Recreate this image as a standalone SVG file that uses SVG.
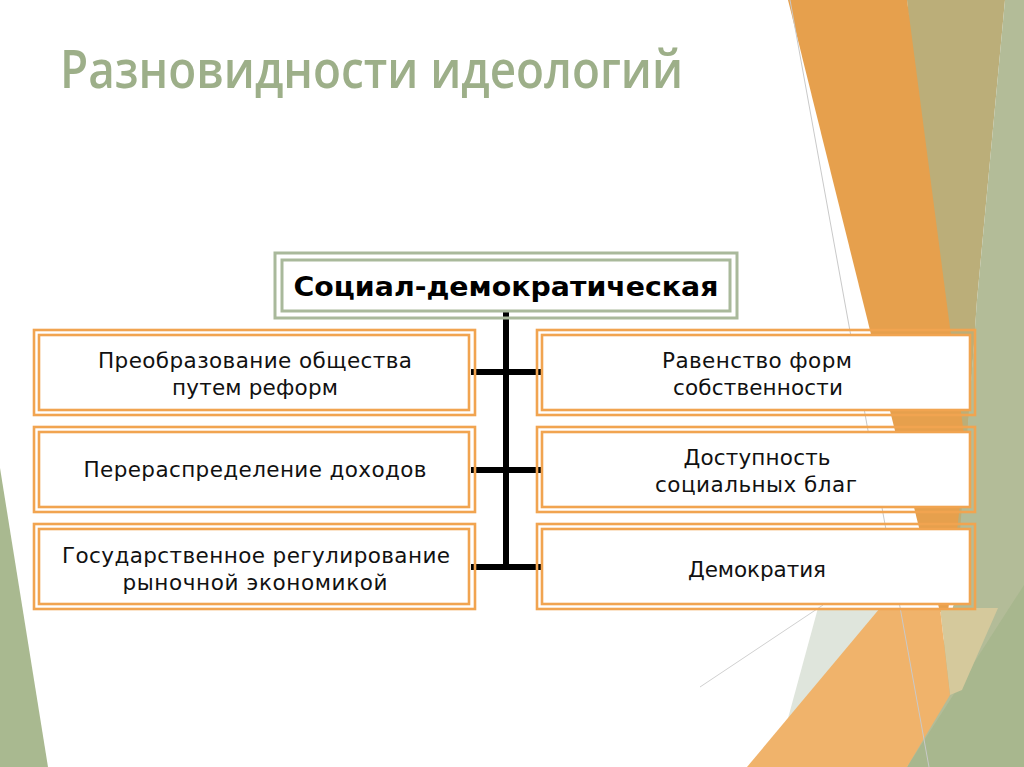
<svg xmlns="http://www.w3.org/2000/svg" width="1024" height="767" viewBox="0 0 1024 767">
<style>
.ob{fill:none;stroke:#f1a450;stroke-width:2.6}
.ib{fill:#ffffff;stroke:#f1a450;stroke-width:2.6}
.gb{fill:none;stroke:#a9b99b;stroke-width:3}
.gi{fill:#ffffff;stroke:#a9b99b;stroke-width:3}
.t{font-family:"DejaVu Sans",Verdana,sans-serif;font-size:21.5px;fill:#111111;text-anchor:middle}
.conn line{stroke:#000000;stroke-width:6}
</style>
<rect width="1024" height="767" fill="#ffffff"/>
<g id="decor">
<polygon points="0,468 48,767 0,767" fill="#a9b990"/>
<polygon points="907,0 1005,0 977,300 962,520 955,580" fill="#bbae79"/>
<polygon points="1005,0 1024,0 1024,767 907,767 955,600 977,300" fill="#b3bc98"/>
<polygon points="907,767 1024,585 1024,767" fill="#a8b78e"/>
<polygon points="788,0 907,0 966,450 948,612 940,612" fill="#e6a04d"/>
<polygon points="818,608 890,608 787,722" fill="#dfe5dc"/>
<polygon points="940,608 998,608 962,690 950,695" fill="#d5c99c"/>
<polygon points="747,767 880,608 940,608 950,695 907,767" fill="#f0b36b"/>
<line x1="790" y1="0" x2="929" y2="767" stroke="#c9c9c9" stroke-width="1"/>
<line x1="700" y1="687" x2="823" y2="605" stroke="#d0d0d0" stroke-width="1"/>
</g>
<text id="title" x="60" y="88" font-family="'Open Sans',sans-serif" font-size="52" font-weight="600" fill="#9daf89" textLength="623" lengthAdjust="spacingAndGlyphs">Разновидности идеологий</text>
<g class="conn" id="connectors">
<line x1="506" y1="312" x2="506" y2="570"/>
<line x1="471" y1="372" x2="541" y2="372"/>
<line x1="471" y1="470" x2="541" y2="470"/>
<line x1="471" y1="567" x2="541" y2="567"/>
</g>
<g id="root">
<rect class="gb" x="275" y="253" width="462" height="65"/>
<rect class="gi" x="282" y="260" width="448" height="51"/>
<text x="506" y="296" font-family="'DejaVu Sans',Verdana,sans-serif" font-size="27" font-weight="bold" fill="#000000" text-anchor="middle" textLength="425" lengthAdjust="spacingAndGlyphs">Социал-демократическая</text>
</g>
<g id="left1">
<rect class="ob" x="34" y="330" width="441" height="85"/>
<rect class="ib" x="39" y="335" width="430" height="75"/>
<text class="t" x="255" y="368" textLength="314">Преобразование общества</text>
<text class="t" x="255" y="395" textLength="166">путем реформ</text>
</g>
<g id="left2">
<rect class="ob" x="34" y="427" width="441" height="85"/>
<rect class="ib" x="39" y="432" width="430" height="75"/>
<text class="t" x="255" y="477" textLength="343">Перераспределение доходов</text>
</g>
<g id="left3">
<rect class="ob" x="34" y="524" width="441" height="85"/>
<rect class="ib" x="39" y="529" width="430" height="75"/>
<text class="t" x="256" y="563" textLength="388">Государственное регулирование</text>
<text class="t" x="255" y="590" textLength="265">рыночной экономикой</text>
</g>
<g id="right1">
<rect class="ob" x="537" y="330" width="438" height="85"/>
<rect class="ib" x="542" y="335" width="428" height="75"/>
<text class="t" x="757" y="368" textLength="190">Равенство форм</text>
<text class="t" x="758" y="395" textLength="170">собственности</text>
</g>
<g id="right2">
<rect class="ob" x="537" y="427" width="438" height="85"/>
<rect class="ib" x="542" y="432" width="428" height="75"/>
<text class="t" x="757" y="465" textLength="147">Доступность</text>
<text class="t" x="756" y="492" textLength="202">социальных благ</text>
</g>
<g id="right3">
<rect class="ob" x="537" y="524" width="438" height="85"/>
<rect class="ib" x="542" y="529" width="428" height="75"/>
<text class="t" x="757" y="577" textLength="138">Демократия</text>
</g>
</svg>
